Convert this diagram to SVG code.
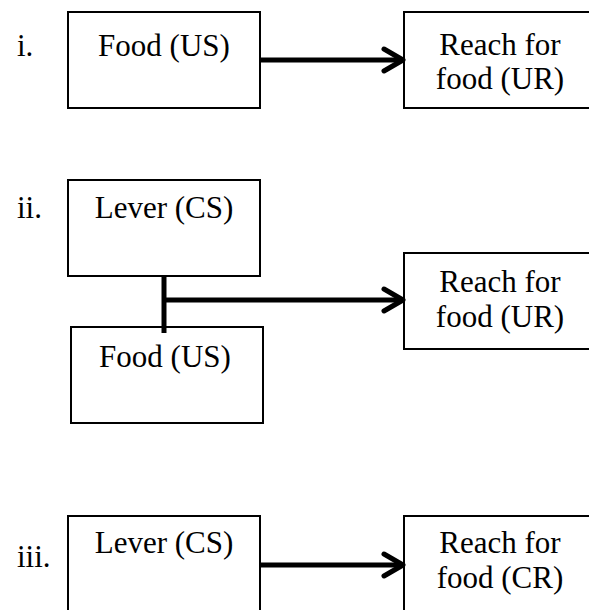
<svg xmlns="http://www.w3.org/2000/svg" width="589" height="610" viewBox="0 0 589 610">
<style>
.box{fill:#fff;stroke:#000;stroke-width:2}
.t{font-family:"Liberation Serif","Times New Roman",serif;font-size:31px;fill:#000}
.c{text-anchor:middle}
.ln{stroke:#000;stroke-width:5;fill:none}
</style>
<defs>
<marker id="arr" markerUnits="userSpaceOnUse" markerWidth="30" markerHeight="30" viewBox="0 0 30 30" refX="24" refY="15" orient="auto">
<path d="M5,4 L24,15 L5,26" fill="none" stroke="#000" stroke-width="5" stroke-linecap="round" stroke-linejoin="round"/>
</marker>
</defs>
<rect width="589" height="610" fill="#fff"/>
<text class="t" x="17" y="56">i.</text>
<text class="t" x="17" y="218">ii.</text>
<text class="t" x="17" y="567">iii.</text>
<g id="food1"><rect class="box" x="68" y="12" width="192" height="96"/><text class="t c" x="164" y="56">Food (US)</text></g>
<g id="reach1"><rect class="box" x="404" y="12" width="200" height="96"/><text class="t c" x="500" y="55">Reach for</text><text class="t c" x="500" y="89">food (UR)</text></g>
<g id="lever2"><rect class="box" x="68" y="180" width="192" height="96"/><text class="t c" x="164" y="218">Lever (CS)</text></g>
<g id="food2"><rect class="box" x="71" y="327" width="192" height="96"/><text class="t c" x="165" y="367">Food (US)</text></g>
<g id="reach2"><rect class="box" x="404" y="253" width="200" height="96"/><text class="t c" x="500" y="292">Reach for</text><text class="t c" x="500" y="327">food (UR)</text></g>
<g id="lever3"><rect class="box" x="68" y="516" width="192" height="110"/><text class="t c" x="164" y="553">Lever (CS)</text></g>
<g id="reach3"><rect class="box" x="404" y="516" width="200" height="110"/><text class="t c" x="500" y="553">Reach for</text><text class="t c" x="500" y="588">food (CR)</text></g>
<g id="connectors">
<line class="ln" x1="260" y1="60" x2="403" y2="60" marker-end="url(#arr)"/>
<line class="ln" x1="164" y1="276" x2="164" y2="333"/>
<line class="ln" x1="164" y1="300" x2="403" y2="300" marker-end="url(#arr)"/>
<line class="ln" x1="260" y1="565" x2="403" y2="565" marker-end="url(#arr)"/>
</g>
</svg>
